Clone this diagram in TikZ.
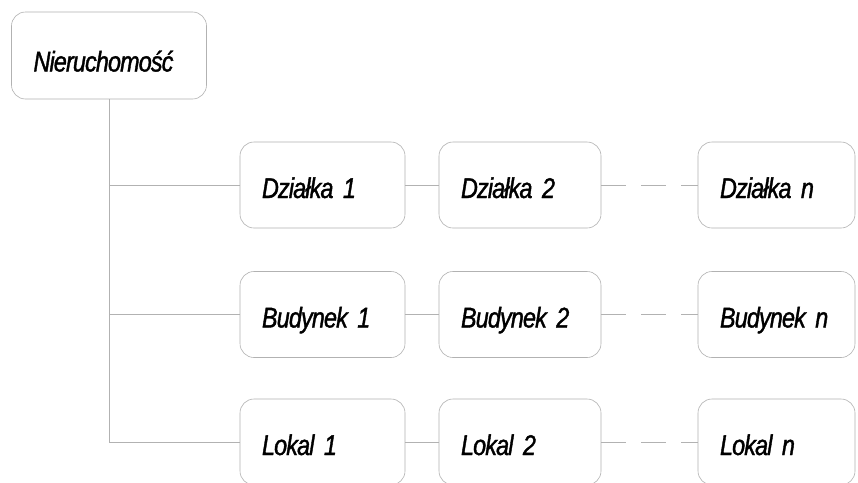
\documentclass[tikz,border=0pt]{standalone}
\usepackage{fontspec}
\newfontfamily\lab{Liberation Sans}[FakeStretch=0.82,FakeBold=1.3,LetterSpace=-3,WordSpace=0.6,
  ItalicFeatures={FakeStretch=0.82,FakeBold=1.3,LetterSpace=-3,WordSpace=0.6}]
\begin{document}
\begin{tikzpicture}[x=1pt,y=-1pt,
  box/.style={draw=gray!60, line width=0.6pt, rounded corners=14pt,
    minimum height=86pt, inner xsep=22pt, inner ysep=0pt, align=left,
    font=\lab\itshape\fontsize{28.5}{30}\selectfont, text height=26pt, text depth=0pt},
  c1/.style={box, text width=121pt},
  c2/.style={box, text width=118pt},
  c3/.style={box, text width=113pt},
  link/.style={draw=gray!60, line width=0.6pt},
  dlink/.style={link, dash pattern=on 25pt off 15pt}]
\useasboundingbox (0,0) rectangle (858,482);
\fill[white] (0,0) rectangle (858,482);
\node[box, text width=151pt, minimum height=87pt, text height=32pt] (nier) at (109,55.5) {Nieruchomość};
\node[c1] (d1) at (322.5,185) {Działka 1};
\node[c2] (d2) at (520,185) {Działka 2};
\node[c3] (dn) at (776.5,185) {Działka n};
\node[c1] (b1) at (322.5,314.5) {Budynek 1};
\node[c2] (b2) at (520,314.5) {Budynek 2};
\node[c3] (bn) at (776.5,314.5) {Budynek n};
\node[c1] (l1) at (322.5,442) {Lokal 1};
\node[c2] (l2) at (520,442) {Lokal 2};
\node[c3] (ln) at (776.5,442) {Lokal n};
\draw[link] (nier.south) |- (d1.west);
\draw[link] (nier.south) |- (b1.west);
\draw[link] (nier.south) |- (l1.west);
\draw[link] (d1) -- (d2);
\draw[link] (b1) -- (b2);
\draw[link] (l1) -- (l2);
\draw[dlink] (d2) -- (dn);
\draw[dlink] (b2) -- (bn);
\draw[dlink] (l2) -- (ln);
\end{tikzpicture}
\end{document}
